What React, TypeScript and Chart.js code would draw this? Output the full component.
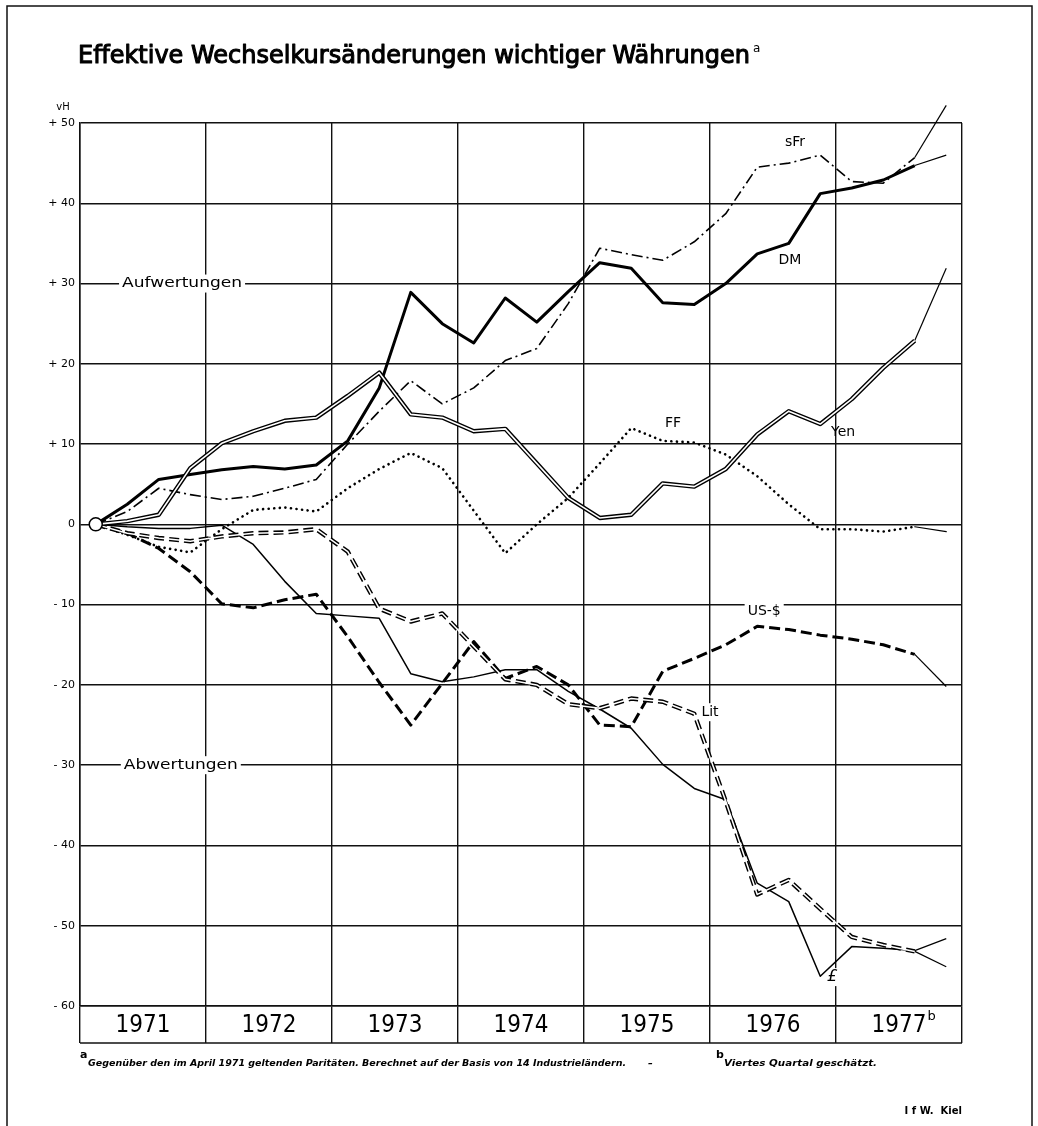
import { useEffect, useRef } from "react";
import { Chart, registerables } from "chart.js";

Chart.register(...registerables);

// ---------- data ----------
const years = ["1971", "1972", "1973", "1974", "1975", "1976", "1977"];
const quarterNames = ["I", "II", "III", "IV"];
const quarters = years.flatMap((y) => quarterNames.map((q) => `${y}-${q}`));
const yTickValues = [-60, -50, -40, -30, -20, -10, 0, 10, 20, 30, 40, 50];

const dm = [0, 2.5, 5.6, 6.2, 6.8, 7.2, 6.9, 7.4, 10.4, 17.0, 28.9, 25.0, 22.6, 28.2, 25.2, 29.0, 32.6, 31.9, 27.6, 27.4, 30.0, 33.7, 35.0, 41.2, 41.9, 42.9, 44.7, 46.0];
const sfr = [0, 1.6, 4.5, 3.7, 3.1, 3.5, 4.5, 5.6, 10.0, 14.1, 17.9, 15.0, 17.0, 20.4, 21.9, 27.5, 34.4, 33.6, 32.9, 35.2, 38.7, 44.5, 45.0, 46.0, 42.7, 42.5, 45.7, 52.2];
const yen = [0, 0.4, 1.2, 7.0, 10.1, 11.6, 12.9, 13.3, 16.0, 18.9, 13.7, 13.3, 11.6, 11.9, 7.6, 3.3, 0.8, 1.2, 5.1, 4.7, 6.9, 11.2, 14.1, 12.5, 15.6, 19.5, 22.9, 31.9];
const ff = [0, -1.3, -2.8, -3.5, -0.6, 1.8, 2.1, 1.6, 4.5, 6.9, 8.9, 7.0, 1.7, -3.6, 0.0, 3.3, 7.6, 12.0, 10.4, 10.2, 8.7, 6.0, 2.5, -0.6, -0.6, -0.9, -0.3, -0.9];
const usd = [0, -1.1, -3.0, -5.9, -9.9, -10.4, -9.4, -8.7, -14.0, -19.7, -25.0, -19.8, -14.6, -19.2, -17.7, -20.0, -25.0, -25.2, -18.3, -16.7, -15.0, -12.7, -13.1, -13.8, -14.3, -15.0, -16.2, -20.2];
const lit = [0, -1.1, -1.7, -2.1, -1.5, -1.1, -1.0, -0.6, -3.4, -10.5, -12.1, -11.1, -15.2, -19.3, -20.0, -22.4, -22.9, -21.7, -22.1, -23.6, -34.5, -46.1, -44.3, -47.9, -51.4, -52.4, -53.2, -55.1];
const gbp = [0, -0.3, -0.5, -0.5, -0.1, -2.5, -7.1, -11.1, -11.4, -11.7, -18.6, -19.6, -19.0, -18.1, -18.1, -20.8, -23.0, -25.4, -29.9, -32.9, -34.3, -44.7, -47.0, -56.3, -52.6, -52.8, -53.1, -51.6];

// series name labels (placed in data coordinates: years since 1971, percent)
const seriesLabels = [
  { text: "sFr", x: 5.675, y: 47.6, box: false },
  { text: "DM", x: 5.635, y: 32.9, box: false },
  { text: "Yen", x: 6.056, y: 11.5, box: false },
  { text: "FF", x: 4.706, y: 12.6, box: false },
  { text: "US-$", x: 5.43, y: -10.85, box: true },
  { text: "Lit", x: 5.0, y: -23.4, box: true },
  { text: "£", x: 5.968, y: -56.4, box: true },
];
const regionLabels = [
  { text: "Aufwertungen", x: 0.81, y: 30, w: 120 },
  { text: "Abwertungen", x: 0.8, y: -30, w: 114 },
];

const title = "Effektive Wechselkursänderungen wichtiger Währungen";
const footA = "Gegenüber den im April 1971 geltenden Paritäten. Berechnet auf der Basis von 14 Industrieländern.";
const footB = "Viertes Quartal geschätzt.";
const source = "I f W.  Kiel";

// ---------- helpers ----------
const FONT = '"DejaVu Sans", "Liberation Sans", sans-serif';
const NARROW = '"Liberation Sans Narrow", "DejaVu Sans Condensed", "Liberation Sans", sans-serif';
const lastIdx = quarters.length - 1;
const est = (c: any) => c.p1DataIndex === lastIdx;
const pts = (vals: number[]) =>
  vals.map((v, i) => ({ x: Math.floor(i / 4) + ((i % 4) + 0.5) / 4, y: v }));

function fitText(ctx: CanvasRenderingContext2D, text: string, x: number, y: number, w: number, stroke = 0) {
  const m = ctx.measureText(text).width;
  ctx.save();
  ctx.translate(x, y);
  ctx.scale(w / m, 1);
  if (stroke > 0) {
    ctx.lineWidth = stroke;
    ctx.lineJoin = "round";
    ctx.strokeStyle = ctx.fillStyle as string;
    ctx.strokeText(text, 0, 0);
  }
  ctx.fillText(text, 0, 0);
  ctx.restore();
}

const decor = {
  id: "decor",
  beforeDatasetsDraw(chart: any) {
    const { ctx, scales } = chart;
    const { x, y } = scales;
    ctx.save();
    ctx.fillStyle = "#fff";
    ctx.font = `14px ${FONT}`;
    for (const r of regionLabels) {
      const cx = x.getPixelForValue(r.x);
      const cy = y.getPixelForValue(r.y);
      ctx.fillRect(cx - r.w / 2 - 3, cy - 9, r.w + 6, 18);
    }
    for (const l of seriesLabels) {
      if (!l.box) continue;
      const cx = x.getPixelForValue(l.x);
      const cy = y.getPixelForValue(l.y);
      const w = ctx.measureText(l.text).width;
      ctx.fillRect(cx - w / 2 - 3, cy - 9, w + 6, 18);
    }
    ctx.restore();
  },
  afterDraw(chart: any) {
    const { ctx, chartArea, scales } = chart;
    const { x, y } = scales;
    ctx.save();
    ctx.fillStyle = "#000";
    ctx.strokeStyle = "#111";

    // page frame
    ctx.lineWidth = 1.5;
    ctx.strokeRect(7, 6, 1025, 1130);

    // bottom border of year band
    ctx.lineWidth = 1.5;
    ctx.beginPath();
    ctx.moveTo(chartArea.left, chartArea.bottom + 37);
    ctx.lineTo(chartArea.right, chartArea.bottom + 37);
    ctx.stroke();

    // title
    ctx.textBaseline = "alphabetic";
    ctx.textAlign = "left";
    ctx.font = `25px ${FONT}`;
    fitText(ctx, title, 78, 63, 672, 1.1);
    ctx.font = `12px ${FONT}`;
    ctx.fillText("a", 753, 52);

    // unit
    ctx.font = `10px ${FONT}`;
    ctx.textAlign = "center";
    ctx.fillText("vH", 63, 110);

    // region labels
    ctx.font = `14px ${FONT}`;
    ctx.textBaseline = "middle";
    ctx.textAlign = "left";
    for (const r of regionLabels) {
      const cx = x.getPixelForValue(r.x);
      const cy = y.getPixelForValue(r.y);
      fitText(ctx, r.text, cx - r.w / 2, cy, r.w);
    }
    // series labels
    ctx.textAlign = "center";
    for (const l of seriesLabels) {
      ctx.font = l.text === "£" ? `italic 16px ${FONT}` : `14px ${FONT}`;
      ctx.fillText(l.text, x.getPixelForValue(l.x), y.getPixelForValue(l.y));
    }

    // superscript b on last year label
    ctx.font = `24px ${NARROW}`;
    const wy = ctx.measureText(years[years.length - 1]).width;
    const lx = x.getPixelForValue(years.length - 0.5);
    ctx.font = `13px ${FONT}`;
    ctx.textAlign = "left";
    ctx.fillText("b", lx + wy / 2 + 1, chartArea.bottom + 11);

    // footnotes
    ctx.textBaseline = "alphabetic";
    ctx.font = `bold 11px ${FONT}`;
    ctx.fillText("a", 80, 1058);
    ctx.font = `italic bold 9.5px ${FONT}`;
    fitText(ctx, footA, 88, 1066, 538);
    ctx.fillText("–", 648, 1066);
    ctx.font = `bold 11px ${FONT}`;
    ctx.fillText("b", 716, 1058);
    ctx.font = `italic bold 9.5px ${FONT}`;
    fitText(ctx, footB, 724, 1066, 153);

    // source
    ctx.font = `bold 10px ${FONT}`;
    ctx.textAlign = "right";
    ctx.fillText(source, chartArea.right, 1114);
    ctx.restore();
  },
};

export default function App() {
  const ref = useRef<HTMLCanvasElement>(null);

  useEffect(() => {
    const canvas = ref.current;
    if (!canvas) return;
    const base: any = {
      pointRadius: 0,
      pointHoverRadius: 0,
      fill: false,
      tension: 0,
      clip: false,
      borderColor: "#000",
      borderJoinStyle: "round",
    };
    const thinEnd = { borderWidth: (c: any) => (est(c) ? 1.2 : undefined), borderDash: (c: any) => (est(c) ? [] : undefined) };

    const chart = new Chart(canvas, {
      type: "line",
      data: {
        datasets: [
          {
            ...base,
            label: "Basis",
            data: [{ x: pts(dm)[0].x, y: dm[0] }],
            pointRadius: 6.5,
            pointBackgroundColor: "#fff",
            pointBorderColor: "#000",
            pointBorderWidth: 1.5,
            showLine: false,
            order: 0,
          },
          {
            ...base,
            label: "Yen-inner",
            data: pts(yen),
            borderColor: "#fff",
            borderWidth: 1.6,
            order: 1,
            segment: { borderColor: (c: any) => (est(c) ? "rgba(255,255,255,0)" : undefined) },
          },
          { ...base, label: "Yen", data: pts(yen), borderWidth: 4.4, order: 2, segment: thinEnd },
          {
            ...base,
            label: "Lit-inner",
            data: pts(lit),
            borderColor: "#fff",
            borderWidth: 1.5,
            order: 3,
            segment: { borderColor: (c: any) => (est(c) ? "rgba(255,255,255,0)" : undefined) },
          },
          { ...base, label: "Lit", data: pts(lit), borderWidth: 4.4, borderDash: [10, 5], order: 4, segment: thinEnd },
          { ...base, label: "DM", data: pts(dm), borderWidth: 3, order: 5, segment: thinEnd },
          { ...base, label: "sFr", data: pts(sfr), borderWidth: 1.6, borderDash: [11, 4, 2, 4], order: 6, segment: thinEnd },
          {
            ...base,
            label: "FF",
            data: pts(ff),
            borderWidth: 2.6,
            borderDash: [0.1, 5.5],
            borderCapStyle: "round",
            order: 7,
            segment: thinEnd,
          },
          { ...base, label: "US-$", data: pts(usd), borderWidth: 3, borderDash: [11, 5], order: 8, segment: thinEnd },
          { ...base, label: "£", data: pts(gbp), borderWidth: 1.5, order: 9, segment: thinEnd },
        ],
      },
      options: {
        responsive: false,
        devicePixelRatio: 1,
        animation: false,
        events: [],
        layout: { padding: { left: 0, top: 123, right: 76, bottom: 83 } },
        plugins: {
          legend: { display: false },
          tooltip: { enabled: false },
          title: { display: false },
        },
        scales: {
          x: {
            type: "linear",
            min: 0,
            max: years.length,
            afterBuildTicks: (s: any) => {
              s.ticks = years
                .flatMap((_, k) => [k, k + 0.5])
                .concat([years.length])
                .map((v) => ({ value: v }));
            },
            afterFit: (s: any) => {
              s.height = 37;
            },
            grid: {
              color: (c: any) => (c.tick && Number.isInteger(c.tick.value) ? "#111" : "rgba(0,0,0,0)"),
              lineWidth: 1.4,
              drawTicks: true,
              tickLength: 37,
            },
            border: { display: true, color: "#111", width: 1.5 },
            ticks: {
              autoSkip: false,
              maxRotation: 0,
              minRotation: 0,
              padding: -32,
              color: "#000",
              font: { size: 24, family: NARROW },
              callback: (v: any) => (Number.isInteger(v) ? "" : years[Math.floor(v)]),
            },
          },
          y: {
            type: "linear",
            min: yTickValues[0],
            max: yTickValues[yTickValues.length - 1],
            afterBuildTicks: (s: any) => {
              s.ticks = yTickValues.map((v) => ({ value: v }));
            },
            afterFit: (s: any) => {
              s.width = 80;
            },
            grid: { color: "#111", lineWidth: 1.4, drawTicks: false },
            border: { display: true, color: "#111", width: 1.5 },
            ticks: {
              padding: 5,
              color: "#000",
              font: { size: 11, family: FONT },
              callback: (v: any) => (v > 0 ? `+ ${v}` : v < 0 ? `- ${-v}` : "0"),
            },
          },
        },
      },
      plugins: [decor],
    } as any);
    return () => chart.destroy();
  }, []);

  return (
    <div style={{ position: "absolute", left: 0, top: 0, width: 1038, height: 1126, background: "#fff" }}>
      <canvas ref={ref} width={1038} height={1126} style={{ display: "block", width: 1038, height: 1126 }} />
    </div>
  );
}
